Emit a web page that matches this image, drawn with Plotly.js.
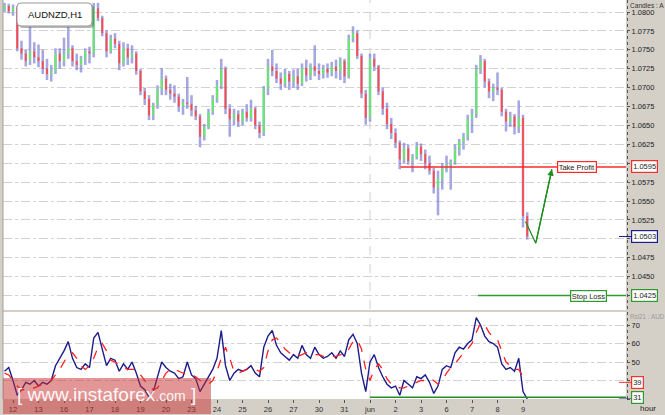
<!DOCTYPE html>
<html><head><meta charset="utf-8">
<script src="https://cdn.plot.ly/plotly-3.0.1.min.js"></script>
<style>html,body{margin:0;padding:0;background:#d4d0c8;overflow:hidden}#chart{width:665px;height:415px}</style>
</head><body><div id="chart"></div>
<script>
// ---------- data (4-hour bars) ----------
const dayLabels = ['12','13','16','17','18','19','20','23','24','25','26','27','30','31','jun','2','3','6','7','8','9'];
const barsPerDay = 6;
const firstDayBar = 2;
const juneLabel = 'jun';

const openP = [
1.0803,1.0808,1.0801,1.0805,1.0752,1.0745,1.0735,1.0748,1.0740,1.0735,
1.0725,1.0718,1.0722,1.0745,1.0735,1.0745,1.0752,1.0735,1.0730,1.0738,
1.0748,1.0745,1.0805,1.0792,1.0772,1.0748,1.0765,1.0758,1.0732,1.0752,
1.0740,1.0745,1.0722,1.0695,1.0685,1.0663,1.0677,1.0698,1.0712,1.0697,
1.0692,1.0688,1.0675,1.0680,1.0678,1.0670,1.0662,1.0635,1.0648,1.0668,
1.0685,1.0703,1.0725,1.0672,1.0658,1.0665,1.0655,1.0668,1.0660,1.0672,
1.0650,1.0640,1.0698,1.0728,1.0722,1.0712,1.0705,1.0718,1.0708,1.0715,
1.0705,1.0726,1.0716,1.0728,1.0722,1.0718,1.0725,1.0720,1.0728,1.0722,
1.0735,1.0715,1.0765,1.0772,1.0742,1.0692,1.0660,1.0738,1.0728,1.0695,
1.0672,1.0652,1.0640,1.0627,1.0605,1.0620,1.0603,1.0608,1.0622,1.0612,
1.0600,1.0590,1.0568,1.0580,1.0593,1.0598,1.0602,1.0618,1.0628,1.0635,
1.0658,1.0665,1.0725,1.0735,1.0708,1.0695,1.0700,1.0697,1.0668,1.0655,
1.0662,1.0648,1.0660,1.0530];
const highP = [
1.0812,1.0811,1.0810,1.0808,1.0762,1.0750,1.0780,1.0760,1.0757,1.0750,
1.0738,1.0730,1.0752,1.0752,1.0766,1.0780,1.0756,1.0745,1.0742,1.0752,
1.0754,1.0812,1.0812,1.0795,1.0776,1.0770,1.0772,1.0762,1.0760,1.0758,
1.0756,1.0748,1.0725,1.0700,1.0690,1.0680,1.0703,1.0726,1.0716,1.0705,
1.0703,1.0692,1.0685,1.0714,1.0690,1.0676,1.0665,1.0652,1.0672,1.0690,
1.0710,1.0738,1.0728,1.0678,1.0672,1.0670,1.0672,1.0678,1.0684,1.0675,
1.0655,1.0702,1.0738,1.0750,1.0732,1.0720,1.0725,1.0722,1.0724,1.0725,
1.0732,1.0737,1.0732,1.0756,1.0732,1.0730,1.0732,1.0734,1.0737,1.0740,
1.0738,1.0770,1.0781,1.0776,1.0745,1.0697,1.0745,1.0745,1.0730,1.0700,
1.0680,1.0660,1.0646,1.0630,1.0627,1.0625,1.0612,1.0628,1.0626,1.0618,
1.0610,1.0594,1.0590,1.0600,1.0610,1.0605,1.0625,1.0632,1.0640,1.0664,
1.0672,1.0730,1.0743,1.0738,1.0712,1.0705,1.0720,1.0700,1.0672,1.0668,
1.0665,1.0683,1.0664,1.0535];
const lowP = [
1.0800,1.0798,1.0795,1.0748,1.0737,1.0728,1.0730,1.0732,1.0727,1.0718,
1.0710,1.0708,1.0718,1.0725,1.0728,1.0738,1.0728,1.0723,1.0720,1.0730,
1.0732,1.0740,1.0788,1.0768,1.0740,1.0745,1.0752,1.0723,1.0728,1.0730,
1.0732,1.0717,1.0690,1.0677,1.0657,1.0657,1.0672,1.0690,1.0690,1.0684,
1.0680,1.0668,1.0664,1.0672,1.0662,1.0657,1.0621,1.0630,1.0645,1.0664,
1.0680,1.0698,1.0665,1.0635,1.0650,1.0648,1.0650,1.0655,1.0655,1.0645,
1.0633,1.0636,1.0690,1.0715,1.0706,1.0697,1.0700,1.0697,1.0700,1.0697,
1.0702,1.0708,1.0710,1.0715,1.0710,1.0712,1.0713,1.0715,1.0712,1.0710,
1.0706,1.0712,1.0760,1.0738,1.0686,1.0651,1.0655,1.0722,1.0690,1.0664,
1.0645,1.0632,1.0620,1.0592,1.0600,1.0598,1.0588,1.0605,1.0603,1.0592,
1.0585,1.0560,1.0531,1.0565,1.0588,1.0565,1.0598,1.0610,1.0618,1.0630,
1.0640,1.0660,1.0718,1.0700,1.0686,1.0682,1.0690,1.0662,1.0642,1.0648,
1.0638,1.0640,1.0515,1.0499];
const closeP = [
1.0808,1.0801,1.0806,1.0752,1.0745,1.0735,1.0748,1.0740,1.0735,1.0725,
1.0718,1.0722,1.0745,1.0735,1.0745,1.0752,1.0735,1.0730,1.0738,1.0748,
1.0745,1.0805,1.0792,1.0772,1.0748,1.0765,1.0758,1.0732,1.0752,1.0740,
1.0745,1.0722,1.0695,1.0685,1.0663,1.0677,1.0698,1.0712,1.0697,1.0692,
1.0688,1.0675,1.0680,1.0678,1.0670,1.0662,1.0635,1.0648,1.0668,1.0685,
1.0703,1.0725,1.0672,1.0658,1.0665,1.0655,1.0668,1.0660,1.0672,1.0650,
1.0640,1.0698,1.0728,1.0722,1.0712,1.0705,1.0718,1.0708,1.0715,1.0705,
1.0726,1.0716,1.0728,1.0722,1.0718,1.0725,1.0720,1.0728,1.0722,1.0735,
1.0715,1.0765,1.0772,1.0742,1.0692,1.0660,1.0738,1.0728,1.0695,1.0672,
1.0652,1.0640,1.0627,1.0605,1.0620,1.0603,1.0608,1.0622,1.0612,1.0600,
1.0590,1.0568,1.0580,1.0593,1.0598,1.0602,1.0618,1.0628,1.0635,1.0658,
1.0665,1.0725,1.0735,1.0708,1.0695,1.0700,1.0697,1.0668,1.0655,1.0662,
1.0648,1.0660,1.0530,1.0503];

const rsi21 = [
45,47,40,32,35,39,38,40,37,39,
38,40,48,52,56,61,52,47,46,49,
47,63,66,57,48,52,51,45,49,46,
50,44,37,35,31,34,42,50,47,45,
44,41,42,50,43,41,34,38,42,46,
52,67,48,40,44,46,45,46,48,44,
42,58,64,67,59,55,53,51,54,52,
59,54,52,58,54,52,53,55,52,56,
53,62,65,60,44,34,50,54,47,42,
38,36,37,32,40,38,36,42,41,43,
39,33,37,46,48,47,55,58,57,60,
62,74,70,64,61,60,58,49,46,47,
45,52,34,30];
const rsiSignal = [
44,43,40,37,35,35,35,36,37,38,
39,40,43,46,50,54,55,52,48,46,
48,52,58,60,56,51,50,48,47,46,
46,46,43,40,37,35,36,40,44,46,
46,45,44,43,43,42,40,39,38,40,
45,52,58,52,45,44,45,46,46,46,
45,47,56,62,63,60,57,55,54,53,
54,55,55,54,54,53,53,53,53,54,
54,57,61,62,57,46,40,46,49,46,
41,38,37,36,36,37,38,39,40,40,
41,40,38,40,44,47,49,52,55,57,
60,66,71,70,66,63,62,56,50,48,
46,46,42,39];

const takeProfit = 1.0595;
const stopLoss = 1.0425;
const lastPrice = 1.0503;
const rsiLevel = 31;
const rsiLastValue = 30;
const rsiSignalLast = 39;
const tpStartBar = 93.2;
const slStartBar = 111.4;
const forecastBars = [122.6, 125.0, 128.8];
const forecastPrices = [1.0523, 1.0494, 1.0592];

const priceTicks = [1.0800,1.0775,1.0750,1.0725,1.0700,1.0675,1.0650,1.0625,1.0600,1.0575,1.0550,1.0525,1.0500,1.0475,1.0450,1.0425];
const priceTickText = ['1.0800','1.0775','1.0750','1.0725','1.0700','1.0675','1.0650','1.0625','','1.0575','1.0550','1.0525','','1.0475','1.0450',''];
const rsiTicks = [30,40,50,60,70];
const rsiTickText = ['','','50','60','70'];

// ---------- geometry helpers (layout only) ----------
const W = 665, H = 415, PL = 3, PR = 626, PT = 0, PB = 399;
const barPx0 = 4.5, barPx = 4.25;
const pxToBar = px => (px - barPx0) / barPx;
const xRange = [pxToBar(PL), pxToBar(PR)];
const pX = px => (px - PL) / (PR - PL);
const pY = py => (PB - py) / (PB - PT);
const priceRange = [1.0800 - (310 - 12) / 7560, 1.0800 + 12 / 7560];
const rsiRange = [70 - (PB - 325) / 1.85, 70 + (325 - 312) / 1.85];

const idx = closeP.map((_, i) => i);
const up = closeP.map((c, i) => c >= openP[i]);
const FONT = 'Liberation Sans, Arial, sans-serif';

const wick = {
  type: 'bar', x: idx, base: lowP, y: highP.map((h, i) => h - lowP[i]),
  width: 0.6, marker: {color: 'rgba(112,112,205,0.62)', line: {width: 0}},
  yaxis: 'y', xaxis: 'x', hoverinfo: 'skip'
};
const body = {
  type: 'bar', x: idx,
  base: openP.map((o, i) => Math.min(o, closeP[i])),
  y: openP.map((o, i) => Math.max(Math.abs(closeP[i] - o), 0.00008)),
  width: 0.42, marker: {color: up.map(u => u ? '#5ef05e' : '#ff4848'), line: {width: 0}},
  yaxis: 'y', xaxis: 'x', hoverinfo: 'skip'
};
const forecast = {
  type: 'scatter', mode: 'lines', x: forecastBars, y: forecastPrices,
  line: {color: '#1f8f1f', width: 1.3}, yaxis: 'y', xaxis: 'x', hoverinfo: 'skip'
};
const rsiLine = {
  type: 'scatter', mode: 'lines', x: idx, y: rsi21,
  line: {color: '#1c1c8c', width: 1.4}, yaxis: 'y2', xaxis: 'x', hoverinfo: 'skip'
};
const sigLine = {
  type: 'scatter', mode: 'lines', x: idx, y: rsiSignal,
  line: {color: '#ff2020', width: 1.3, dash: 'dash'}, yaxis: 'y2', xaxis: 'x', hoverinfo: 'skip'
};

function roundRect(x0, y0, x1, y1, r) {
  const X = v => pX(v).toFixed(5), Y = v => pY(v).toFixed(5);
  return `M${X(x0 + r)},${Y(y0)} L${X(x1 - r)},${Y(y0)} Q${X(x1)},${Y(y0)} ${X(x1)},${Y(y0 + r)} ` +
         `L${X(x1)},${Y(y1 - r)} Q${X(x1)},${Y(y1)} ${X(x1 - r)},${Y(y1)} L${X(x0 + r)},${Y(y1)} ` +
         `Q${X(x0)},${Y(y1)} ${X(x0)},${Y(y1 - r)} L${X(x0)},${Y(y0 + r)} Q${X(x0)},${Y(y0)} ${X(x0 + r)},${Y(y0)} Z`;
}

const juneBar = firstDayBar + dayLabels.indexOf(juneLabel) * barsPerDay;

const shapes = [
  {type: 'line', xref: 'paper', yref: 'paper', x0: 0, x1: 0, y0: 0, y1: 1, line: {color: '#a0a0a0', width: 1}, layer: 'above'},
  {type: 'line', xref: 'paper', yref: 'paper', x0: pX(627.5), x1: pX(627.5), y0: 0, y1: 1, line: {color: '#555', width: 1, dash: 'dot'}, layer: 'above'},
  {type: 'line', xref: 'x', yref: 'paper', x0: juneBar, x1: juneBar, y0: 0, y1: 1, line: {color: '#cfcfcf', width: 1, dash: 'dash'}, layer: 'below'},
  {type: 'line', xref: 'x', yref: 'y', x0: tpStartBar, x1: xRange[1], y0: takeProfit, y1: takeProfit, line: {color: '#ff2a2a', width: 1.3}},
  {type: 'line', xref: 'x', yref: 'y', x0: slStartBar, x1: xRange[1], y0: stopLoss, y1: stopLoss, line: {color: '#2e9a2e', width: 1.3}},
  {type: 'line', xref: 'x', yref: 'y2', x0: juneBar, x1: xRange[1], y0: rsiLevel, y1: rsiLevel, line: {color: '#2a8a2a', width: 1.5}},
  {type: 'line', xref: 'paper', yref: 'y', x0: pX(619), x1: pX(632), y0: lastPrice, y1: lastPrice, line: {color: '#1c1c8c', width: 1}},
  {type: 'line', xref: 'paper', yref: 'y2', x0: pX(619), x1: pX(632), y0: rsiSignalLast, y1: rsiSignalLast, line: {color: '#ff3030', width: 1}},
  {type: 'line', xref: 'paper', yref: 'y2', x0: pX(619), x1: pX(632), y0: rsiLastValue, y1: rsiLastValue, line: {color: '#1c1c8c', width: 1}},
  {type: 'path', xref: 'paper', yref: 'paper', path: roundRect(19, 5, 94, 28, 4), fillcolor: 'rgba(0,0,0,0.28)', line: {width: 0}, layer: 'above'},
  {type: 'path', xref: 'paper', yref: 'paper', path: roundRect(17, 3, 92, 26, 4), fillcolor: '#ffffff', line: {color: '#9a9a9a', width: 1}, layer: 'above'},
  {type: 'rect', xref: 'paper', yref: 'paper', x0: pX(3), x1: pX(211), y0: pY(414), y1: pY(378), fillcolor: 'rgba(200,45,45,0.5)', line: {width: 0}, layer: 'above'}
];

function valueBox(text, yref, y, color, px) {
  return {xref: 'paper', yref: yref, x: pX(px), y: y, xanchor: 'left', yanchor: 'middle',
    text: text, showarrow: false, font: {family: FONT, size: 7.5, color: '#222'},
    bgcolor: '#ffffff', bordercolor: color, borderwidth: 1.2, borderpad: 1};
}
function lineLabel(text, y, color, px) {
  return {xref: 'x', yref: 'y', x: pxToBar(px), y: y, xanchor: 'center', yanchor: 'middle',
    text: text, showarrow: false, font: {family: FONT, size: 7.5, color: '#222'},
    bgcolor: '#ffffff', bordercolor: color, borderwidth: 1.2, borderpad: 0.5};
}

const annotations = [
  {xref: 'paper', yref: 'paper', x: pX(54.5), y: pY(14.5), xanchor: 'center', yanchor: 'middle', showarrow: false,
   text: 'AUDNZD,H1', font: {family: FONT, size: 9.5, color: '#111'}},
  {xref: 'paper', yref: 'paper', x: pX(628), y: pY(5.5), xanchor: 'left', yanchor: 'middle', showarrow: false,
   text: 'Candles : A', font: {family: FONT, size: 6.6, color: '#333'}},
  {xref: 'paper', yref: 'paper', x: pX(628), y: pY(316.5), xanchor: 'left', yanchor: 'middle', showarrow: false,
   text: 'Rsi21 : AUD', font: {family: FONT, size: 6.3, color: '#9a9a9a'}},
  {xref: 'paper', yref: 'paper', x: pX(648), y: pY(409), xanchor: 'center', yanchor: 'middle', showarrow: false,
   text: 'hour', font: {family: FONT, size: 8, color: '#222'}},
  lineLabel('Take Profit', takeProfit, '#ff2a2a', 577),
  lineLabel('Stop Loss', stopLoss, '#2e9a2e', 588.5),
  valueBox(takeProfit.toFixed(4), 'y', takeProfit, '#ff2a2a', 631),
  valueBox(lastPrice.toFixed(4), 'y', lastPrice, '#1c1c8c', 631),
  valueBox(stopLoss.toFixed(4), 'y', stopLoss, '#2e9a2e', 631),
  valueBox(String(rsiSignalLast), 'y2', rsiSignalLast, '#ff3030', 631),
  valueBox(String(rsiLevel), 'y2', rsiLevel, '#2e9a2e', 631),
  {xref: 'x', yref: 'y', x: forecastBars[2], y: forecastPrices[2], axref: 'x', ayref: 'y',
   ax: forecastBars[1], ay: forecastPrices[1], text: '', showarrow: true, arrowhead: 2, arrowsize: 1,
   arrowwidth: 1.3, arrowcolor: '#1f8f1f', standoff: 0},
  {xref: 'paper', yref: 'paper', x: pX(106), y: pY(394), xanchor: 'center', yanchor: 'middle', showarrow: false,
   text: '[ www.instaforex<span style="font-size:14px">.com</span> ]',
   font: {family: FONT, size: 19, color: 'rgba(255,255,255,0.95)'}}
];

const layout = {
  width: W, height: H,
  margin: {l: PL, r: W - PR, t: PT, b: H - PB, pad: 0},
  paper_bgcolor: '#d4d0c8', plot_bgcolor: '#ffffff',
  showlegend: false, barmode: 'overlay', dragmode: false,
  xaxis: {range: xRange, anchor: 'y2', tickmode: 'array',
    tickvals: dayLabels.map((_, i) => firstDayBar + i * barsPerDay), ticktext: dayLabels,
    ticks: 'outside', ticklen: 3, tickcolor: '#555', showgrid: false, zeroline: false,
    showline: false, tickfont: {family: FONT, size: 7.5, color: '#333'}, fixedrange: true},
  yaxis: {domain: [pY(310), 1], range: priceRange, side: 'right', anchor: 'x',
    tickmode: 'array', tickvals: priceTicks, ticktext: priceTickText,
    ticks: 'outside', ticklen: 3, tickcolor: '#555', showgrid: true, gridcolor: '#d2d2d2',
    griddash: 'dashdot', gridwidth: 1, zeroline: false, showline: false,
    tickfont: {family: FONT, size: 7.5, color: '#222'}, fixedrange: true},
  yaxis2: {domain: [0, pY(312)], range: rsiRange, side: 'right', anchor: 'x',
    tickmode: 'array', tickvals: rsiTicks, ticktext: rsiTickText,
    ticks: 'outside', ticklen: 3, tickcolor: '#555', showgrid: true, gridcolor: '#d2d2d2',
    griddash: 'dashdot', gridwidth: 1, zeroline: false, showline: false,
    tickfont: {family: FONT, size: 7.5, color: '#222'}, fixedrange: true},
  shapes: shapes,
  annotations: annotations
};

Plotly.newPlot('chart', [wick, body, forecast, rsiLine, sigLine], layout, {staticPlot: true, displayModeBar: false});
</script>
</body></html>
